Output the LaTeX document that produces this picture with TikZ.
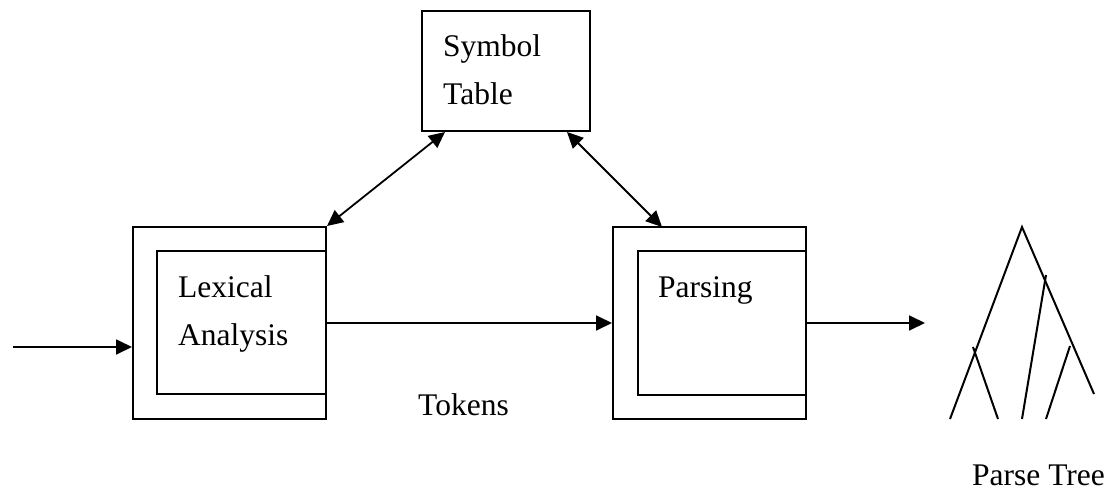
\documentclass[tikz,border=0pt]{standalone}
\usepackage{fontspec}
\setmainfont{Liberation Serif}
\usetikzlibrary{arrows.meta}
\begin{document}
\begin{tikzpicture}[x=1pt,y=-1pt,
  box/.style={draw,line width=2pt,inner sep=0pt},
  lbl/.style={anchor=base west,inner sep=0pt,font=\fontsize{31.5}{37}\selectfont},
  tip/.style={Triangle[length=16pt,width=15pt]},
  arr/.style={line width=1.8pt,-{Triangle[length=16pt,width=15pt]}},
  biarr/.style={line width=1.8pt,{Triangle[length=16pt,width=15pt]}-{Triangle[length=16pt,width=15pt]}},
  branch/.style={line width=2pt}]
\useasboundingbox (0,0) rectangle (1109,503);

% symbol table
\node[box,minimum width=168pt,minimum height=120pt] (sym) at (506,71) {};
\node[lbl] (symA) at (443,57) {Symbol};
\node[lbl] (symB) at (443,105) {Table};

% lexical analysis: outer and inner frame
\node[box,minimum width=193pt,minimum height=192pt] (lexO) at (229.5,323) {};
\node[box,minimum width=169pt,minimum height=143pt] (lexI) at (241.5,322.5) {};
\node[lbl] (lexA) at (178,297) {Lexical};
\node[lbl] (lexB) at (178,345) {Analysis};

% parsing: outer and inner frame
\node[box,minimum width=193pt,minimum height=192pt] (parO) at (709.5,323) {};
\node[box,minimum width=168pt,minimum height=144pt] (parI) at (722,323) {};
\node[lbl] (parA) at (658,297) {Parsing};

% captions
\node[lbl] (tok) at (418,415) {Tokens};
\node[lbl] (ptree) at (972,485) {Parse Tree};

% connectors
\coordinate (src) at (13,347);
\coordinate (out) at (925,323);
\coordinate (symL) at (445,132);
\coordinate (symR) at (567,132);
\coordinate (parT) at (662,227);
\draw[arr] (src) -- (src -| lexO.west);
\draw[arr] (lexO.east) -- (parO.west);
\draw[arr] (parO.east) -- (out);
\draw[biarr] (symL) -- (lexO.north east);
\draw[biarr] (symR) -- (parT);

% parse tree
\coordinate (root) at (1022,227);
\coordinate (nR) at (1046,275);
\coordinate (nL) at (973,347);
\draw[branch] (950,419) -- (root) -- (1094,394);
\draw[branch] (nR) -- (1022,419);
\draw[branch] (nL) -- (998,419);
\draw[branch] (1070,346) -- (1046,419);
\end{tikzpicture}
\end{document}
